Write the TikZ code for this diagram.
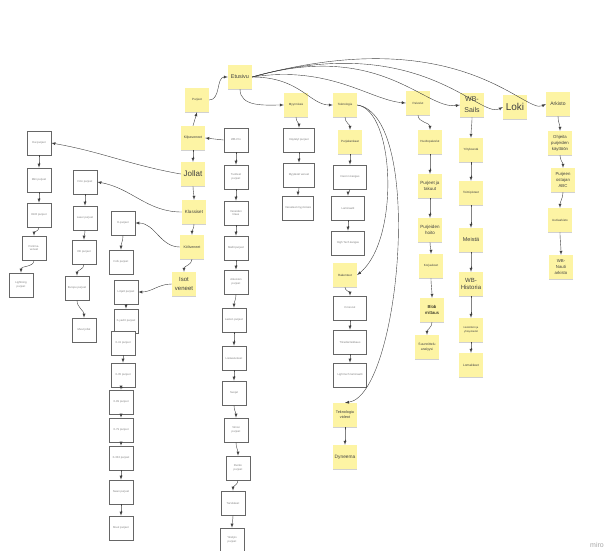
\documentclass[tikz,border=0pt]{standalone}
\usepackage{fontspec}
\setmainfont{Liberation Sans}
\usetikzlibrary{arrows,shadows}
\definecolor{notey}{HTML}{FDF4A4}

\begin{document}
\begin{tikzpicture}[x=1pt,y=-1pt,
  fs/.style 2 args={font=\fontsize{#1}{#2}\selectfont},
  note/.style={fill=notey, minimum width=24pt, minimum height=24pt, inner sep=0.5pt, align=center, text=black!75, fs={3}{3.8},
    drop shadow={shadow xshift=0.3pt, shadow yshift=-1.2pt, opacity=0.18, fill=black}},
  page/.style={draw=black!60, line width=0.7pt, fill=white, minimum width=24pt, minimum height=24pt, inner sep=0.5pt, align=center, text=black!50, fs={2.8}{3.5}},
  wide/.style={minimum width=31pt},
  link/.style={-latex, line width=0.4pt, draw=black!75}]

\fill[white] (0,0) rectangle (614,550);
\useasboundingbox (0,0) rectangle (614,550);

% main notes
\node[note, fs={5.5}{6.5}] (etusivu) at (240,77) {Etusivu};
\node[note] (purjeet) at (197,100) {Purjeet};
\node[note, fs={3.5}{4}] (kilpa) at (193,138) {Kilpaveneet};
\node[note, fs={8}{9}] (jollat) at (193,174) {Jollat};
\node[note, fs={4.5}{5}] (klassiset) at (194,212) {Klassiset};
\node[note, fs={3.6}{4}] (koli) at (192,247) {Köliveneet};
\node[note, fs={6}{9.5}] (isot) at (184,284) {Isot\\veneet};
\node[note] (myynti) at (296,105) {Myynnissä};
\node[note] (tekno) at (345,105) {Teknologia};
\node[note] (palvelut) at (418,103) {Palvelut};
\node[note, fs={7}{11}] (wbsails) at (472,105) {WB-\\Sails};
\node[note, fs={10}{11}] (loki) at (515,107) {Loki};
\node[note, fs={5}{6}] (arkisto) at (558,104) {Arkisto};

% teknologia
\node[note] (f1) at (350,142) {Purjekankaat};
\node[note] (f5) at (345,275) {Rakenteet};
\node[note, fs={3.8}{5}] (h1) at (345,415) {Teknologia\\videot};
\node[note, fs={4.8}{6}] (h2) at (345,457) {Dyneema};

% palvelut
\node[note] (p1) at (430,142) {Huoltopalvelut};
\node[note, fs={4.5}{6}] (p2) at (430,186) {Purjeet ja\\takuut};
\node[note, fs={4.5}{6}] (p3) at (430,230) {Purjeiden\\hoito};
\node[note] (p4) at (431,266) {Korjaukset};
\node[note, fs={4.3}{6}, text=black] (p5) at (432,310) {Blob\\mittaus};
\node[note, fs={3.4}{4.5}] (p6) at (427,347) {Suunnittelu\\analyysi};

% wb-sails
\node[note] (w1) at (471,150) {Yrityksestä};
\node[note] (w2) at (471,193) {Toimipisteet};
\node[note, fs={5.5}{6.5}] (w3) at (471,240) {Meistä};
\node[note, fs={6}{7.5}] (w4) at (471,284) {WB-\\Historia};
\node[note, fs={2.6}{3.4}] (w5) at (471,330) {Henkilöstö ja\\yhteystiedot};
\node[note, fs={3.2}{4}] (w6) at (471,365) {Lomakkeet};

% arkisto
\node[note, fs={4.3}{6}] (k1) at (560,143) {Ohjeita\\purjeiden\\käyttöön};
\node[note, fs={4.3}{6}] (k2) at (563,180) {Purjeen\\ostajan\\ABC};
\node[note] (k3) at (560,220) {Uutisarkisto};
\node[note, fs={4.3}{6}] (k4) at (561,267) {WB-\\Nauti\\arkisto};

% page columns
\foreach \n/\x/\y/\t in {1/39/143/{Hai purjeet}, 2/39/180/{Mini purjeet}, 3/39/215/{8mR purjeet},
    4/34/248/{Perinne-\\veneet}, 5/21/285/{Lightning\\purjeet}}
  \node[page] (a\n) at (\x,\y) {\t};
\foreach \n/\x/\y/\t in {1/85/182/{Finn purjeet}, 2/85/218/{Laser purjeet}, 3/84/252/{OK purjeet},
    4/77/288/{Europe purjeet}, 5/84/330/{Muut jollat}}
  \node[page] (b\n) at (\x,\y) {\t};
\foreach \n/\x/\y/\t in {1/123/223/{H-purjeet}, 2/121/262/{Folk purjeet}}
  \node[page] (c\n) at (\x,\y) {\t};
\foreach \n/\x/\y/\t in {1/126/292/{Linjett purjeet}, 2/126/321/{X-yacht purjeet}, 3/123/343/{X-41 purjeet},
    4/123/375/{X-35 purjeet}, 5/121/402/{X-99 purjeet}, 6/121/430/{X-79 purjeet},
    7/121/458/{X-332 purjeet}, 8/121/492/{Swan purjeet}, 9/121/528/{Muut purjeet}}
  \node[page] (d\n) at (\x,\y) {\t};
\foreach \n/\x/\y/\t in {1/236/140/{WB-Pro}, 2/236/177/{Tuotteet\\purjeet}, 3/236/213/{Veneiden\\tilaus},
    4/236/248/{Mallit purjeet}, 5/236/282/{Aikuisten\\purjeet}, 6/234/320/{Lasten purjeet},
    7/234/358/{Lisävarusteet}, 8/234/393/{Suojat}, 9/236/430/{Vinssi\\purjeet},
    10/238/468/{Runko\\purjeet}, 11/233/503/{Tarvikkeet}, 12/232/540/{Yksityis\\purjeet}}
  \node[page] (m\n) at (\x,\y) {\t};
\foreach \n/\x/\y/\t in {1/299/140/{Käytetyt purjeet}, 2/299/175/{Myytävät veneet}, 3/298/208/{Varusteet myynnissä}}
  \node[page, wide] (e\n) at (\x,\y) {\t};
\foreach \n/\x/\y/\t in {2/350/177/{Dacron kangas}, 3/348/208/{Laminaatit}, 4/348/243/{High Tech kangas}}
  \node[page, wide, minimum width=33pt] (f\n) at (\x,\y) {\t};
\foreach \n/\x/\y/\t in {1/350/308/{Crosscut}, 2/350/342/{Triradial leikkaus}, 3/350/375/{Light tech laminaatti}}
  \node[page, wide, minimum width=33pt] (g\n) at (\x,\y) {\t};

\node[text=black!35, fs={7}{8}] (miro) at (597,545) {miro};

% connectors
\foreach \u/\v in {a1/a2,a2/a3,a3/a4,a4/a5, b1/b2,b2/b3,b3/b4,b4/b5, c1/c2,
    d1/d2,d3/d4,d4/d5,d5/d6,d6/d7,d7/d8,d8/d9,
    m1/m2,m2/m3,m3/m4,m4/m5,m5/m6,m6/m7,m7/m8,m8/m9,m9/m10,m10/m11,m11/m12,
    kilpa/jollat,jollat/klassiset,klassiset/koli,koli/isot,
    myynti/e1,e1/e2,e2/e3, tekno/f1,f1/f2,f2/f3,f3/f4, f5/g1,g1/g2,g2/g3, h1/h2,
    palvelut/p1,p1/p2,p2/p3,p3/p4,p4/p5,p5/p6,
    wbsails/w1,w1/w2,w2/w3,w3/w4,w4/w5,w5/w6,
    arkisto/k1,k1/k2,k2/k3,k3/k4}
  \draw[link] (\u.south) to[out=-90,in=90] (\v.north);

\draw[link] (purjeet.east) to[out=0,in=180] (etusivu.west);
\draw[link] (kilpa.north) -- (purjeet.south);
\draw[link] (m1.west) -- (kilpa.east);
\draw[link] (jollat.west) to[out=170,in=-10] (a1.east);
\draw[link] (klassiset.west) to[out=180,in=-10] (b1.east);
\draw[link] (koli.west) to[out=180,in=0] (c1.east);
\draw[link] (isot.west) to[out=180,in=0] (d1.east);
\draw[link] (etusivu.south) to[out=-90,in=180] (myynti.west);
\draw[link] (etusivu.east) .. controls (300,77) and (310,105) .. (tekno.west);
\draw[link] (etusivu.east) .. controls (330,65) and (370,100) .. (palvelut.west);
\draw[link] (tekno.east) .. controls (395,110) and (400,240) .. (f5.east);
\draw[link] (tekno.east) .. controls (425,115) and (400,395) .. (h1.north);
\draw[link] (etusivu.east) .. controls (380,40) and (425,110) .. (wbsails.west);
\draw[link] (etusivu.east) .. controls (420,30) and (480,120) .. (loki.west);
\draw[link] (etusivu.east) .. controls (460,20) and (525,115) .. (arkisto.west);
\end{tikzpicture}
\end{document}
